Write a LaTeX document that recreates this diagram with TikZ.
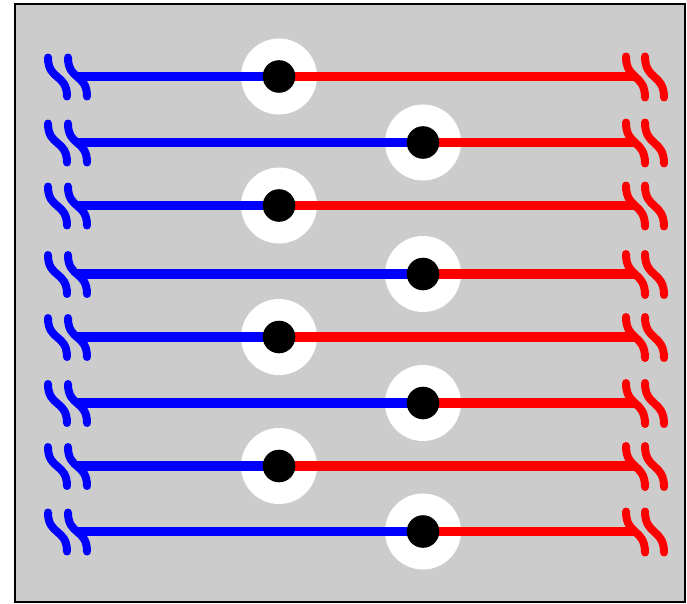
\documentclass[tikz,border=0pt]{standalone}
\begin{document}
\begin{tikzpicture}[x=1pt,y=-1pt,
  bar/.style={line width=9.5pt},
  squig/.style={line width=8pt, line cap=round},
  halo/.style={fill=white},
  pin/.style={fill=black}]
\definecolor{bg}{RGB}{204,204,204}
\useasboundingbox (0,0) rectangle (687,604);
\draw[fill=bg, line width=1.5pt] (15,4) rectangle (685,602);
\foreach \y/\x in {76.5/279, 142.5/423, 205.5/279, 274/423, 337/279, 403/423, 466/279, 531.5/423} {
  \fill[halo] (\x,\y) circle (38);
  \coordinate (L) at (78,\y);
  \coordinate (R) at (635,\y);
  \coordinate (D) at (\x,\y);
  \draw[blue, bar] (L) -- (D);
  \draw[red, bar] (D) -- (R);
  \fill[pin] (D) circle (16.3);
  \draw[blue, squig] (48,\y-19) .. controls (48,\y+4) and (67,\y-3) .. (67,\y+20);
  \draw[blue, squig] (68,\y-19) .. controls (68,\y+4) and (87,\y-3) .. (87,\y+20);
  \draw[red, squig] (626,\y-20) .. controls (626,\y+4) and (645,\y-3) .. (645,\y+21);
  \draw[red, squig] (645,\y-20) .. controls (645,\y+4) and (664,\y-3) .. (664,\y+21);
}
\end{tikzpicture}
\end{document}
